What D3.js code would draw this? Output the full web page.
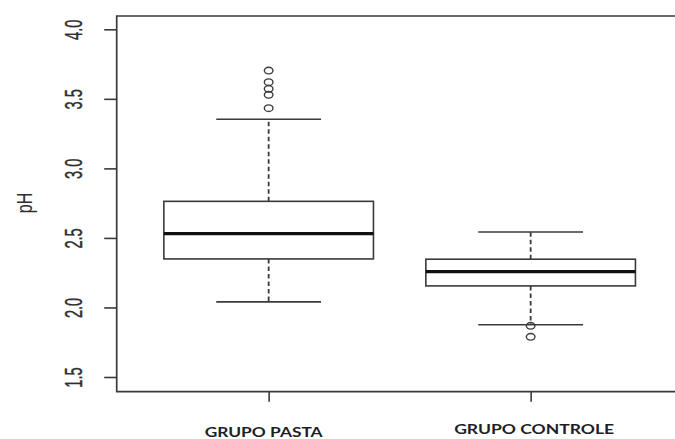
<!DOCTYPE html>
<html>
<head>
<meta charset="utf-8">
<script src="https://cdn.jsdelivr.net/npm/d3@7"></script>
<style>
  html, body { margin: 0; padding: 0; background: #fff; }
  svg { display: block; }
</style>
</head>
<body>
<svg id="chart" width="675" height="439"></svg>
<script>
// pH by group: five-number summaries plus outlying observations
const groups = ["GRUPO PASTA", "GRUPO CONTROLE"];
const groupPos = [1, 2];
const whiskerLow = [2.04, 1.876];
const q1 = [2.349, 2.155];
const median = [2.531, 2.257];
const q3 = [2.763, 2.347];
const whiskerHigh = [3.353, 2.543];
const outliers = [
  [3.433, 3.529, 3.572, 3.620, 3.703],
  [1.868, 1.789]
];
const yTicks = [1.5, 2.0, 2.5, 3.0, 3.5, 4.0];
const yLabel = "pH";

const svg = d3.select("#chart");
const ink = "#3a3a3a";

// plot region (frame is open on the right, running past the page edge)
const frame = { left: 116.7, top: 16, bottom: 391.7, right: 682.6 };

const x = d3.scaleLinear().domain([0.42, 2.58]).range([frame.left, frame.right]);
const y = d3.scaleLinear().domain([1.5, 4.0]).range([377, 29.3]);

const boxWidth = 0.8;     // in x units
const capWidth = 0.4;

// frame: left, top, bottom
svg.append("path")
  .attr("d", `M${frame.right},${frame.top}H${frame.left}V${frame.bottom}H${frame.right}`)
  .attr("fill", "none")
  .attr("stroke", ink)
  .attr("stroke-width", 1.7);

// y axis
const yAxis = svg.append("g")
  .attr("transform", `translate(${frame.left},0)`)
  .call(d3.axisLeft(y).tickValues(yTicks).tickSize(12.5).tickFormat(d3.format(".1f")));
yAxis.select(".domain").remove();
yAxis.selectAll(".tick line").attr("stroke", ink).attr("stroke-width", 1.6);
yAxis.selectAll(".tick text")
  .attr("x", null).attr("dy", null)
  .attr("text-anchor", "middle")
  .attr("fill", "#2e2e2e")
  .attr("stroke", "#2e2e2e")
  .attr("stroke-width", 0.25)
  .style("font-family", "'Liberation Sans', Arial, sans-serif")
  .style("font-size", "14.6px")
  .attr("transform", d => `translate(${81.8 - frame.left},0) scale(1.62,1) rotate(-90)`);

// y axis title
svg.append("text")
  .attr("transform", `translate(32,203) scale(1.35,1) rotate(-90)`)
  .attr("text-anchor", "middle")
  .attr("fill", "#2e2e2e")
  .style("font-family", "'Liberation Sans', Arial, sans-serif")
  .style("font-size", "16px")
  .text(yLabel);

// x axis ticks
const xAxis = svg.append("g")
  .attr("transform", `translate(0,${frame.bottom})`)
  .call(d3.axisBottom(x).tickValues(groupPos).tickSize(10).tickFormat(""));
xAxis.select(".domain").remove();
xAxis.selectAll(".tick line").attr("stroke", ink).attr("stroke-width", 1.6);

// group labels
const labelDx = [-5, 3.5];
const labelY = [436.8, 434];
const labelLen = [118, 160];
svg.selectAll("text.group")
  .data(groups)
  .join("text")
  .attr("class", "group")
  .attr("x", (d, i) => x(groupPos[i]) + labelDx[i])
  .attr("y", (d, i) => labelY[i])
  .attr("text-anchor", "middle")
  .attr("fill", "#1e1e26")
  .attr("textLength", (d, i) => labelLen[i])
  .attr("lengthAdjust", "spacingAndGlyphs")
  .style("font-family", "Lato, 'Open Sans', sans-serif")
  .style("font-weight", "700")
  .style("font-size", "13.8px")
  .text(d => d);

// boxes
const g = svg.append("g");
groups.forEach((name, i) => {
  const cx = x(groupPos[i]);
  const bx0 = x(groupPos[i] - boxWidth / 2), bx1 = x(groupPos[i] + boxWidth / 2);
  const cx0 = x(groupPos[i] - capWidth / 2), cx1 = x(groupPos[i] + capWidth / 2);
  const grp = g.append("g");

  // whiskers
  grp.append("line")
    .attr("x1", cx).attr("x2", cx)
    .attr("y1", y(q3[i])).attr("y2", y(whiskerHigh[i]))
    .attr("stroke", ink).attr("stroke-width", 1.8).attr("stroke-dasharray", "4.5,3");
  grp.append("line")
    .attr("x1", cx).attr("x2", cx)
    .attr("y1", y(q1[i])).attr("y2", y(whiskerLow[i]))
    .attr("stroke", ink).attr("stroke-width", 1.8).attr("stroke-dasharray", "4.5,3");

  // caps
  [whiskerHigh[i], whiskerLow[i]].forEach(v => {
    grp.append("line")
      .attr("x1", cx0).attr("x2", cx1)
      .attr("y1", y(v)).attr("y2", y(v))
      .attr("stroke", ink).attr("stroke-width", 1.6);
  });

  // box
  grp.append("rect")
    .attr("x", bx0).attr("width", bx1 - bx0)
    .attr("y", y(q3[i])).attr("height", y(q1[i]) - y(q3[i]))
    .attr("fill", "#fff")
    .attr("stroke", ink).attr("stroke-width", 1.6);

  // median
  grp.append("line")
    .attr("x1", bx0).attr("x2", bx1)
    .attr("y1", y(median[i])).attr("y2", y(median[i]))
    .attr("stroke", "#111").attr("stroke-width", 3.3);

  // outliers
  grp.selectAll("ellipse")
    .data(outliers[i])
    .join("ellipse")
    .attr("cx", cx)
    .attr("cy", d => y(d))
    .attr("rx", 4.3)
    .attr("ry", 3.3)
    .attr("fill", "none")
    .attr("stroke", ink)
    .attr("stroke-width", 1.4);
});
</script>
</body>
</html>
